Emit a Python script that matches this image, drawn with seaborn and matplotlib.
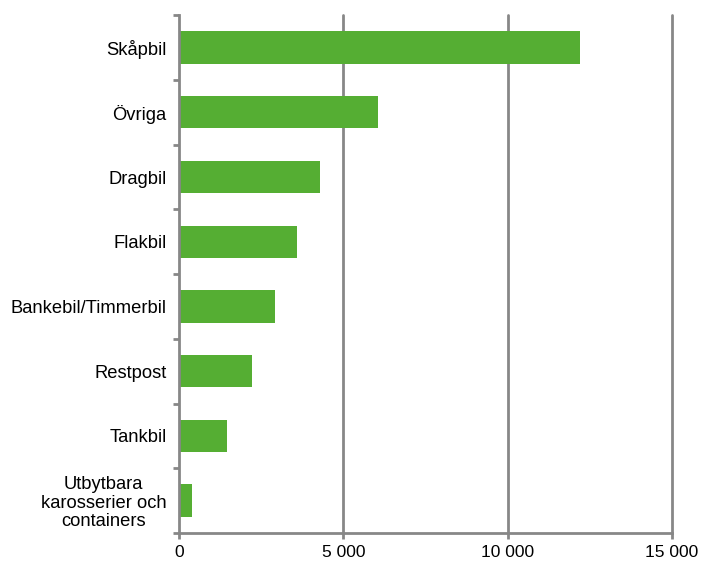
import matplotlib
matplotlib.use('Agg')
import matplotlib.pyplot as plt
from matplotlib.ticker import FuncFormatter, FixedLocator
import seaborn as sns
import pandas as pd

categories = ['Skåpbil', 'Övriga', 'Dragbil', 'Flakbil', 'Bankebil/Timmerbil',
              'Restpost', 'Tankbil', 'Utbytbara\nkarosserier och\ncontainers']
values = [12200, 6070, 4280, 3600, 2920, 2220, 1460, 400]
xticks = [0, 5000, 10000, 15000]

GRAY = '#878787'
GREEN = '#55ae33'

sns.set_theme(style='white')
plt.rcParams['font.family'] = ['Liberation Sans', 'DejaVu Sans']
plt.rcParams['text.color'] = 'black'
plt.rcParams['xtick.labelcolor'] = 'black'
plt.rcParams['ytick.labelcolor'] = 'black'

df = pd.DataFrame({'kategori': categories, 'antal': values})

fig = plt.figure(figsize=(7.03, 5.63), dpi=100)
ax = fig.add_axes([0.2546, 0.0533, 0.7013, 0.9197])

sns.barplot(data=df, x='antal', y='kategori', color=GREEN, saturation=1,
            width=0.5, linewidth=0, ax=ax)

ax.set_xlim(0, 15000)
ax.set_ylim(len(categories) - 0.5, -0.5)
ax.set_xlabel('')
ax.set_ylabel('')

# vertical gridlines
for xv in xticks[1:]:
    ax.axvline(xv, color=GRAY, lw=2, zorder=0, clip_on=False)

for side in ['top', 'right']:
    ax.spines[side].set_visible(False)
for side in ['left', 'bottom']:
    ax.spines[side].set_color(GRAY)
    ax.spines[side].set_linewidth(2)

ax.xaxis.set_major_locator(FixedLocator(xticks))
ax.xaxis.set_major_formatter(FuncFormatter(lambda v, p: f'{int(v):,}'.replace(',', ' ')))
ax.tick_params(axis='x', which='major', direction='out', length=4, width=2,
               color=GRAY, labelsize=12.5, pad=5, bottom=True)

# category ticks: labels at centres, tick marks at boundaries
ax.yaxis.set_minor_locator(FixedLocator([i - 0.5 for i in range(len(categories) + 1)]))
ax.tick_params(axis='y', which='major', length=0, labelsize=13.2, pad=9)
ax.tick_params(axis='y', which='minor', direction='out', length=4, width=2,
               color=GRAY, left=True)
for lbl in ax.get_yticklabels():
    lbl.set_multialignment('center')
    lbl.set_linespacing(1.1)

fig.savefig('out.png', dpi=100)
